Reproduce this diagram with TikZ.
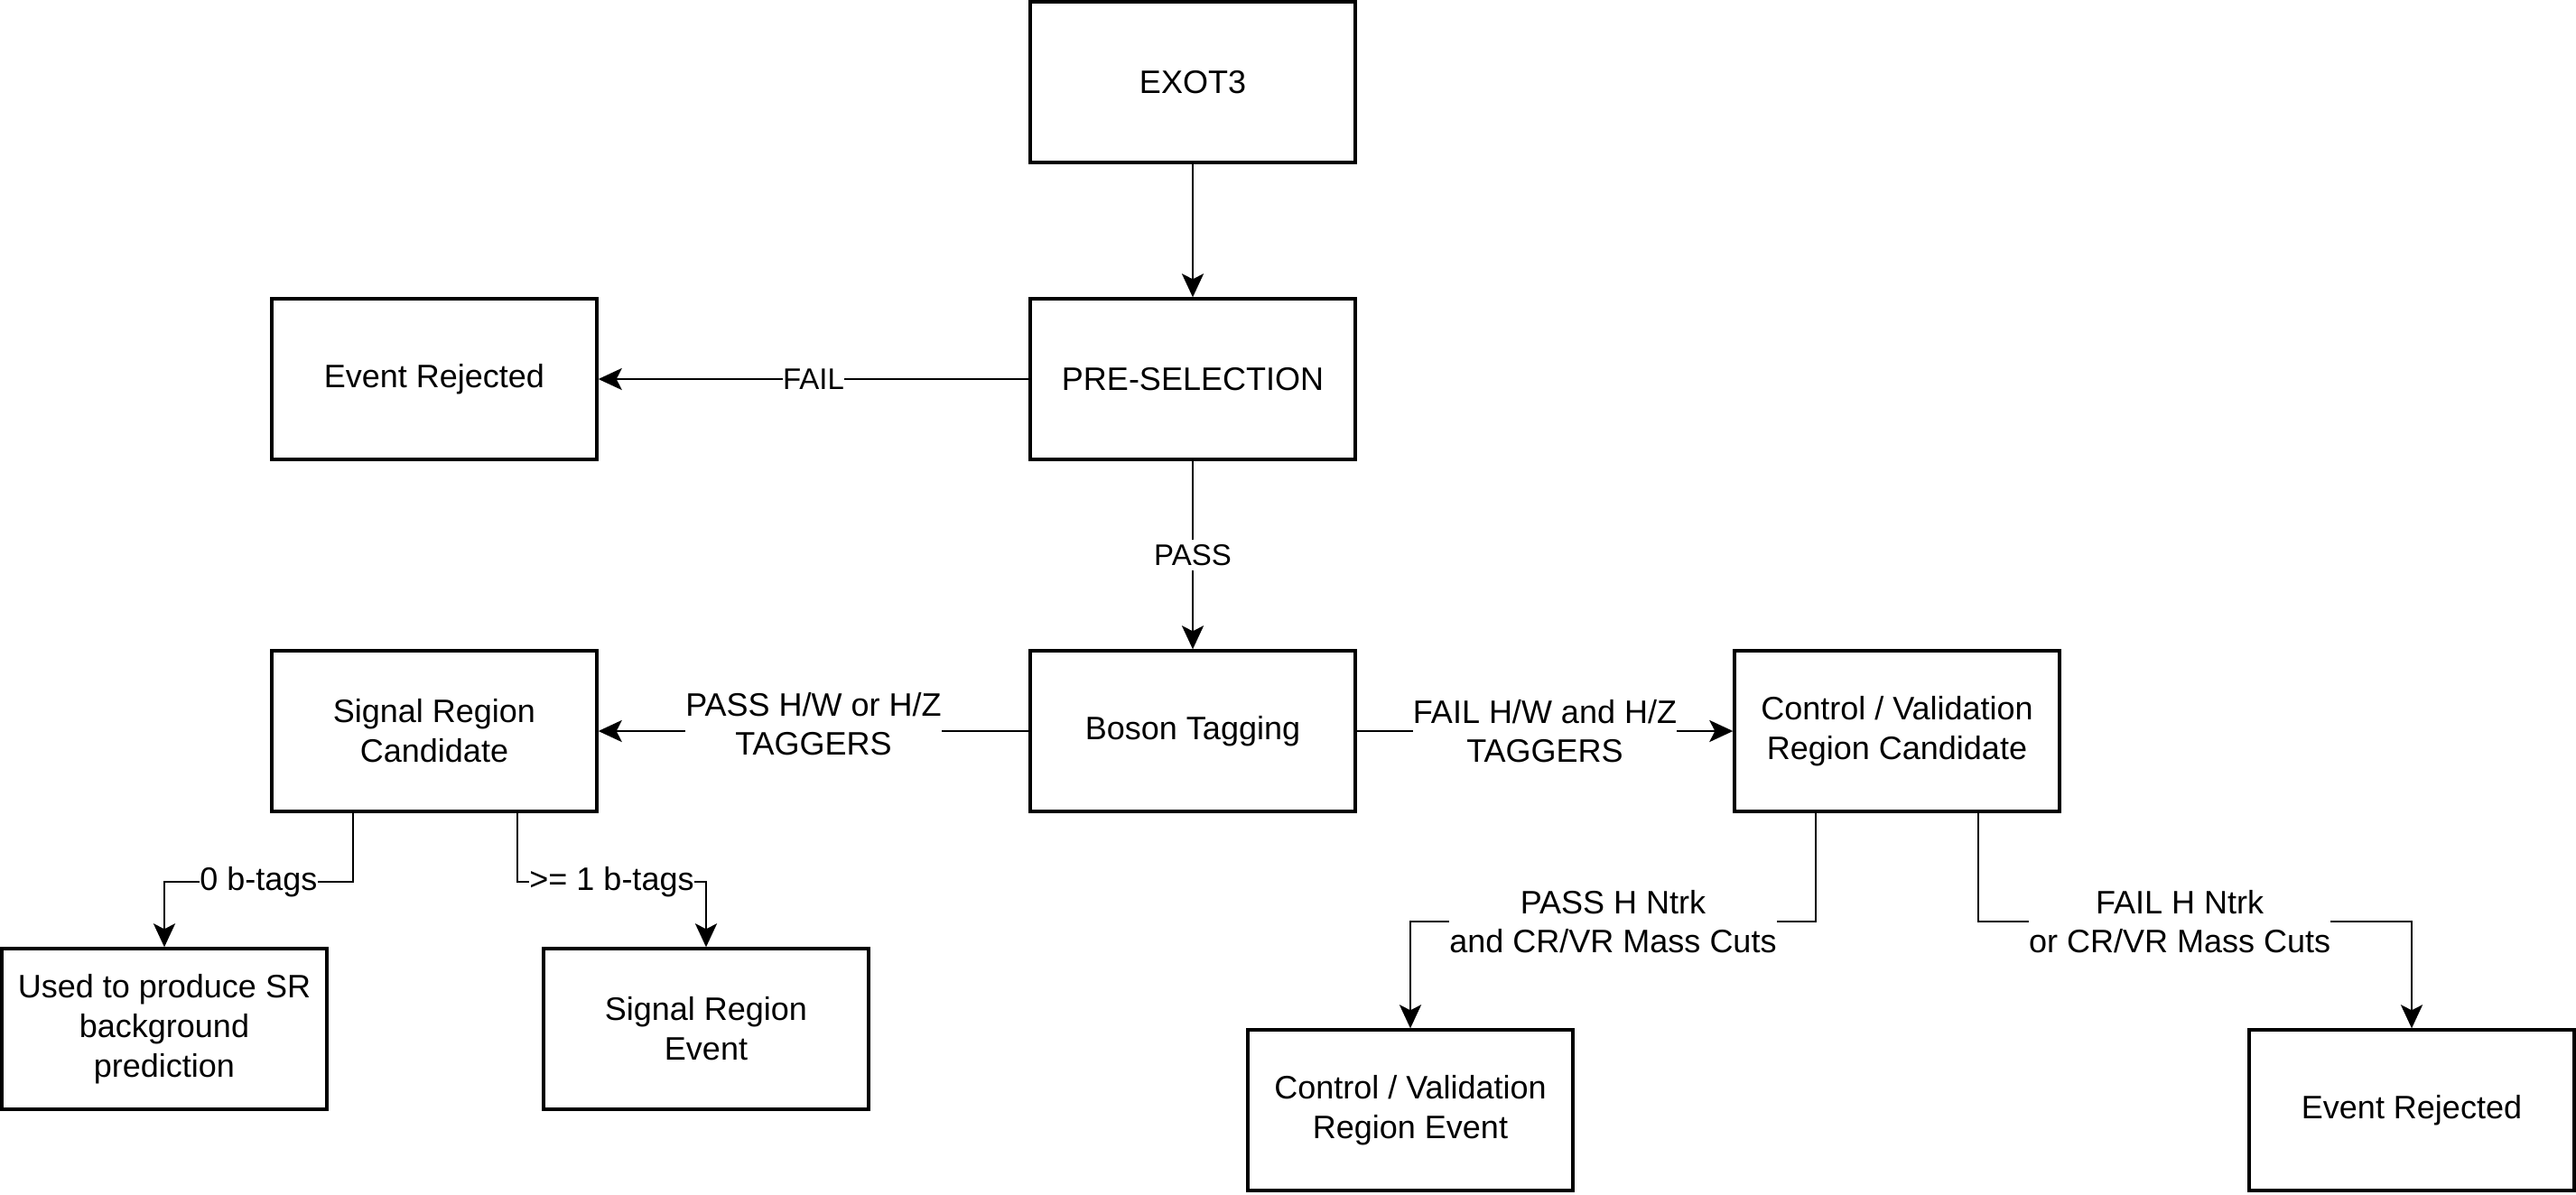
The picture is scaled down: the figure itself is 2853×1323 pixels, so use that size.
\documentclass[tikz,border=0pt]{standalone}
\usepackage{fontspec}
\setmainfont{Liberation Sans}
\usetikzlibrary{arrows.meta}
\begin{document}
\begin{tikzpicture}[x=1pt,y=-1pt,
  box/.style={draw, line width=3.4pt, minimum width=360pt, minimum height=178pt,
    align=center, font=\fontsize{36}{44}\selectfont, inner sep=0pt},
  conn/.style={line width=2.8pt, -{Stealth[length=26pt,width=24pt,inset=6pt]}},
  lbl/.style={fill=white, align=center, font=\fontsize{36}{43}\selectfont,
    inner xsep=0pt, inner ysep=5pt},
  slbl/.style={lbl, font=\fontsize{33}{40}\selectfont}]
\useasboundingbox (0,0) rectangle (2853,1323);
\fill[white] (0,0) rectangle (2853,1323);

\node[box] (exot) at (1321,91) {EXOT3};
\node[box] (pre) at (1321,420) {PRE-SELECTION};
\node[box] (rej1) at (481,420) {Event Rejected};
\node[box] (boson) at (1321,810) {Boson Tagging};
\node[box] (sr) at (481,810) {Signal Region\\Candidate};
\node[box] (cv) at (2101,810) {Control / Validation\\Region Candidate};
\node[box] (used) at (182,1140) {Used to produce SR\\background\\prediction};
\node[box] (srev) at (782,1140) {Signal Region\\Event};
\node[box] (cvev) at (1562,1230) {Control / Validation\\Region Event};
\node[box] (rej2) at (2671,1230) {Event Rejected};

\draw[conn] (exot) -- (pre);
\draw[conn] (pre) -- node[slbl, midway]{FAIL} (rej1);
\draw[conn] (pre) -- node[slbl, midway]{PASS} (boson);
\draw[conn] (boson) -- node[lbl, midway, yshift=8pt]{PASS H/W or H/Z\\TAGGERS} (sr);
\draw[conn] (boson) -- node[lbl, midway]{FAIL H/W and H/Z\\TAGGERS} (cv);

\coordinate (a1) at (391,977);
\coordinate (a2) at (182,977);
\coordinate (b1) at (573,977);
\coordinate (b2) at (782,977);
\coordinate (c1) at (2011,1021);
\coordinate (c2) at (1562,1021);
\coordinate (d1) at (2191,1021);
\coordinate (d2) at (2671,1021);

\draw[conn] (sr.south -| a1) -- (a1) -- node[lbl, midway]{0 b-tags} (a2) -- (used.north);
\draw[conn] (sr.south -| b1) -- (b1) -- node[lbl, midway]{>= 1 b-tags} (b2) -- (srev.north);
\draw[conn] (cv.south -| c1) -- (c1) -- node[lbl, midway]{PASS H Ntrk\\and CR/VR Mass Cuts} (c2) -- (cvev.north);
\draw[conn] (cv.south -| d1) -- (d1) -- node[lbl, pos=0.465]{FAIL H Ntrk\\or CR/VR Mass Cuts} (d2) -- (rej2.north);
\end{tikzpicture}
\end{document}
